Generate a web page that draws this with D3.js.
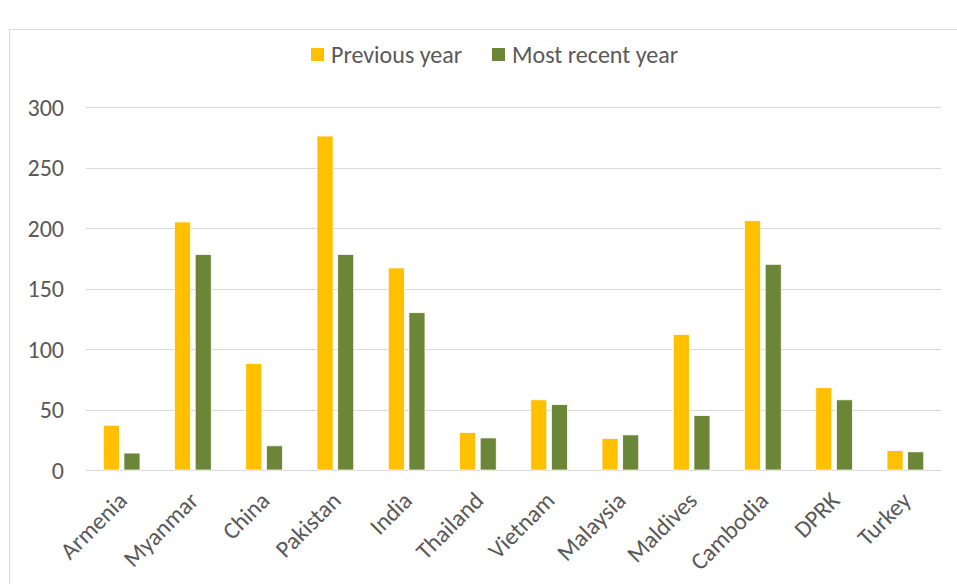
<!DOCTYPE html>
<html><head><meta charset="utf-8">
<script src="https://cdn.jsdelivr.net/npm/d3@7"></script>
<style>body{margin:0;background:#fff}svg{display:block}text{font-family:Carlito,Calibri,Lato,sans-serif;fill:#595959}</style>
</head><body>
<script>
const categories = ["Armenia","Myanmar","China","Pakistan","India","Thailand","Vietnam","Malaysia","Maldives","Cambodia","DPRK","Turkey"];
const previousYear = [37,205,88,276,167,31,58,26,112,206,68,16];
const mostRecentYear = [14,178,20,178,130,26.5,54,29,45,170,58,15];
const seriesNames = ["Previous year","Most recent year"];
const seriesColors = ["#FFC000","#6B8636"];
const yTicks = [0,50,100,150,200,250,300];

const W=957,H=584;
const m={left:86,right:16,top:107,bottom:114};
const svg=d3.select("body").append("svg").attr("width",W).attr("height",H);
svg.append("rect").attr("x",9.5).attr("y",29.5).attr("width",W).attr("height",H).attr("fill","#fff").attr("stroke","#d9d9d9");

const x=d3.scaleBand().domain(categories).range([m.left,W-m.right]).paddingInner(0).paddingOuter(0);
const y=d3.scaleLinear().domain([0,300]).range([H-m.bottom,m.top]);
const step=x.bandwidth();
const bw=step*0.225, gap=step*0.065;

svg.append("g").selectAll("line").data(yTicks).join("line")
 .attr("x1",m.left).attr("x2",W-m.right).attr("y1",d=>Math.round(y(d))+0.5).attr("y2",d=>Math.round(y(d))+0.5)
 .attr("stroke","#d9d9d9").attr("stroke-width",1.2);

const yAxis=d3.axisLeft(y).tickValues(yTicks).tickSize(0).tickPadding(0);
const ya=svg.append("g").attr("transform",`translate(64,0)`).call(yAxis);
ya.select(".domain").remove();
ya.selectAll("text").style("font-size","24px").attr("fill","#595959").attr("dy","0.35em");

const data=[previousYear,mostRecentYear];
data.forEach((vals,si)=>{
  svg.append("g").selectAll("rect").data(vals).join("rect")
   .attr("x",(d,i)=>x(categories[i])+step/2+(si===0?-gap/2-bw:gap/2))
   .attr("width",bw)
   .attr("y",d=>y(d)).attr("height",d=>y(0)-y(d))
   .attr("fill",seriesColors[si]).attr("stroke","#fff").attr("stroke-width",0.75);
});

const xAxis=d3.axisBottom(x).tickSize(0).tickPadding(0);
const xa=svg.append("g").attr("transform",`translate(0,${y(0)})`).call(xAxis);
xa.select(".domain").remove();
xa.selectAll("text").style("font-size","24px").attr("fill","#595959")
  .attr("text-anchor","end").attr("dy",0).attr("y",0)
  .attr("transform","translate(7,32) rotate(-45)");

const lg=svg.append("g");
const lx=[311,492];
seriesNames.forEach((n,i)=>{
  lg.append("rect").attr("x",lx[i]).attr("y",48).attr("width",13).attr("height",13).attr("fill",seriesColors[i]);
  lg.append("text").attr("x",lx[i]+20).attr("y",55).attr("dy","0.35em").style("font-size","24px").text(n);
});
</script>
</body></html>
